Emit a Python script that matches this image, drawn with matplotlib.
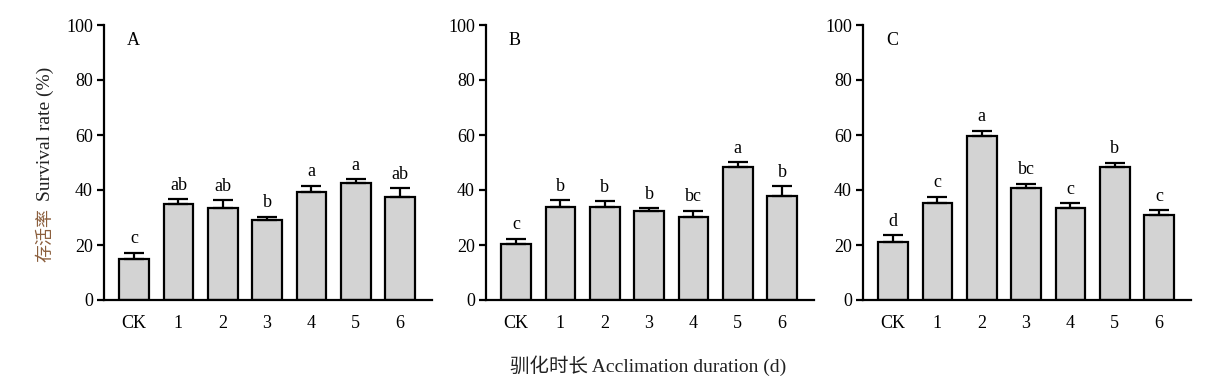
import numpy as np
import matplotlib
matplotlib.use('Agg')
import matplotlib.pyplot as plt

plt.rcParams['font.family'] = ['Liberation Serif', 'Noto Sans CJK SC']

categories = ['CK', '1', '2', '3', '4', '5', '6']
panel_names = ['A', 'B', 'C']

means_a = [15.0, 34.9, 33.6, 29.2, 39.4, 42.4, 37.5]
err_a = [2.1, 1.8, 2.6, 1.0, 2.1, 1.6, 3.2]
letters_a = ['c', 'ab', 'ab', 'b', 'a', 'a', 'ab']

means_b = [20.3, 33.9, 33.9, 32.4, 30.3, 48.4, 37.9]
err_b = [2.0, 2.4, 2.1, 1.0, 2.1, 1.7, 3.5]
letters_b = ['c', 'b', 'b', 'b', 'bc', 'a', 'b']

means_c = [21.0, 35.1, 59.8, 40.9, 33.4, 48.3, 30.9]
err_c = [2.5, 2.5, 1.7, 1.4, 1.7, 1.6, 1.7]
letters_c = ['d', 'c', 'a', 'bc', 'c', 'b', 'c']

panels = [(means_a, err_a, letters_a), (means_b, err_b, letters_b), (means_c, err_c, letters_c)]

W, H = 1223, 380
fig = plt.figure(figsize=(W / 100, H / 100), dpi=100)

left_px = [104, 486, 863]
ax_w = 328
top_px, bot_px = 25, 300

x = np.arange(len(categories))
for i, (m, e, lab) in enumerate(panels):
    ax = fig.add_axes([left_px[i] / W, 1 - bot_px / H, ax_w / W, (bot_px - top_px) / H])
    ax.bar(x, m, width=0.67, color='#d3d3d3', edgecolor='black', linewidth=1.6, zorder=2)
    ax.errorbar(x, m, yerr=[np.zeros(len(e)), e], fmt='none', ecolor='black',
                elinewidth=1.6, capsize=7, capthick=1.6, zorder=3)
    # significance letters
    for xi, mi, ei, li in zip(x, m, e, lab):
        ax.text(xi, mi + ei + 2.0, li, ha='center', va='bottom', fontsize=13)
    ax.set_xlim(-0.68, 6.72)
    ax.set_ylim(0, 100)
    ax.set_yticks(range(0, 101, 20))
    ax.set_xticks(x)
    ax.set_xticklabels(categories)
    ax.spines['top'].set_visible(False)
    ax.spines['right'].set_visible(False)
    ax.spines['left'].set_linewidth(1.6)
    ax.spines['bottom'].set_linewidth(1.6)
    ax.tick_params(axis='y', direction='out', length=5, width=1.6, labelsize=13, pad=3)
    ax.tick_params(axis='x', direction='in', length=4, width=1.6, labelsize=13, pad=11)
    ax.text(0.07, 0.975, panel_names[i], transform=ax.transAxes, ha='left', va='top', fontsize=13)

fig.text(45 / W, 1 - 134 / H, 'Survival rate (%)', rotation=90, ha='center', va='center',
         fontsize=14, color='#222222')
fig.text(45 / W, 1 - 235 / H, '存活率', rotation=90, ha='center', va='center',
         fontsize=13, color='#8B5E3C', family=['Noto Sans CJK SC', 'DejaVu Sans'])
fig.text(648 / W, 1 - 366 / H, '驯化时长 Acclimation duration (d)', ha='center', va='center',
         fontsize=14, color='#222222', family=['Liberation Serif', 'Noto Sans CJK SC'])

fig.savefig('out.png', dpi=100)
